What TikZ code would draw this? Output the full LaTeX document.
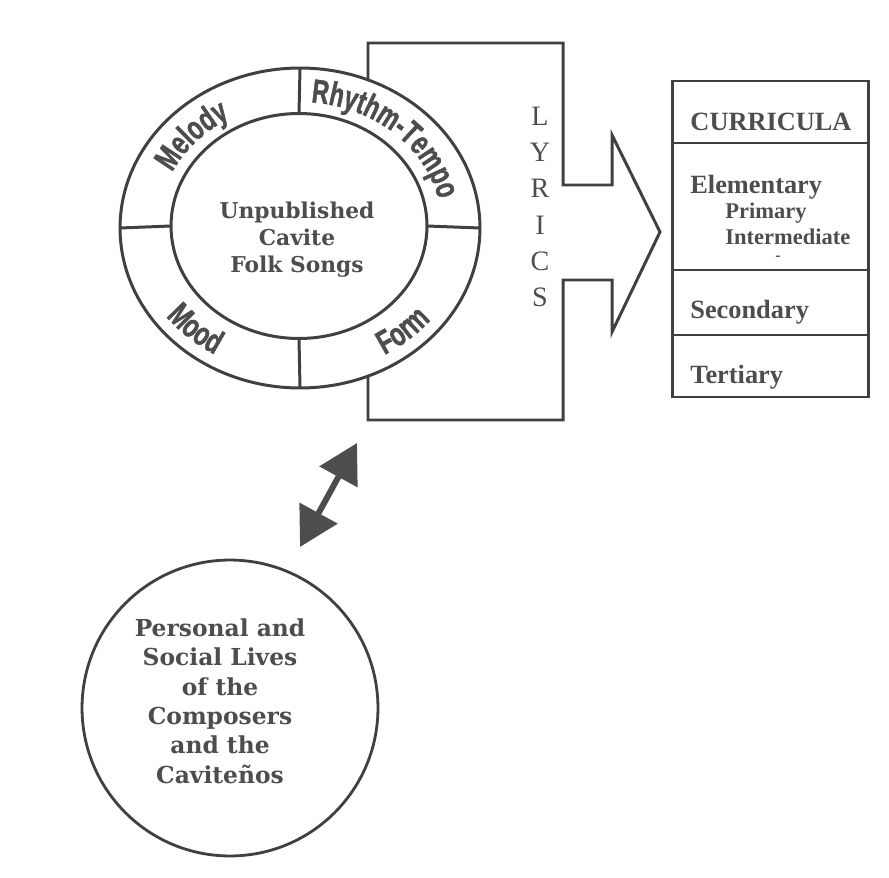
\documentclass[tikz,border=0pt]{standalone}
\usepackage{fontspec}
\setmainfont{Liberation Serif}
\newfontfamily\slabfont{DejaVu Serif}
\newfontfamily\ringfont[FakeStretch=0.7, FakeBold=1.2]{Liberation Sans}
\usetikzlibrary{shapes.geometric, arrows.meta, positioning, decorations.text}
\definecolor{inkline}{HTML}{404040}
\definecolor{inktext}{HTML}{4d4d4d}
\newcommand{\ringlabelfont}{\color{inktext}\ringfont\bfseries\fontsize{19}{21}\selectfont}
\tikzset{
    ring_ellipse/.style={
        ellipse, draw=inkline, line width=1.7pt, fill=white,
        inner sep=0pt, outer sep=0pt
    },
    lives_circle/.style={
        circle, draw=inkline, line width=1.6pt, fill=white,
        minimum size=5.92cm, inner sep=0pt, outer sep=0pt
    },
    ring_line/.style={
        draw=inkline, line width=1.7pt
    },
    slab_text/.style={
        text=inktext, align=center, inner sep=0pt,
        font=\slabfont\bfseries\fontsize{12.4}{15.3}\selectfont
    },
    lyrics_text/.style={
        text=inktext, align=center, inner sep=0pt,
        font=\fontsize{16}{20.7}\selectfont
    },
    cell_text/.style={
        text=inktext, anchor=west, inner sep=0pt,
        font=\bfseries\fontsize{15}{18}\selectfont
    },
    sub_text/.style={
        cell_text, font=\bfseries\fontsize{12.8}{15}\selectfont
    },
    ring_label/.style={
        decorate, decoration={text along path, text align=center, text={|\ringlabelfont|#1}}
    },
    link_arrow/.style={
        {Triangle[length=22pt, width=24pt]}-{Triangle[length=22pt, width=24pt]},
        draw=inktext, line width=3.4pt
    }
}

\begin{document}
\begin{tikzpicture}[x=0.02cm, y=0.02cm]
    \useasboundingbox (0,0) rectangle (889,-878);

    % lyrics arrow, ring sits on top of it
    \draw[ring_line, line join=miter] (368,-43) -- (563,-43) -- (563,-185) -- (612,-185) -- (612,-135)
        -- (660,-232) -- (612,-332) -- (612,-280) -- (563,-280) -- (563,-420) -- (368,-420) -- cycle;

    \node[ring_ellipse, minimum width=7.2cm, minimum height=6.4cm] (ring) at (300,-228) {};
    \node[ring_ellipse, minimum width=5.12cm, minimum height=4.5cm] (songs) at (299,-226) {};
    \draw[ring_line] (ring.north) -- (songs.north);
    \draw[ring_line] (ring.south) -- (songs.south);
    \draw[ring_line] (ring.west) -- (songs.west);
    \draw[ring_line] (ring.east) -- (songs.east);
    \node[slab_text] (songs_text) at (297,-240) {Unpublished\\Cavite\\Folk Songs};

    % ring labels
    \path[ring_label=Melody] (300,-227) ++(178:142 and 125) arc[start angle=178, end angle=98, x radius=142, y radius=125];
    \path[ring_label=Rhythm-Tempo] (300,-227) ++(102:142 and 125) arc[start angle=102, end angle=-6, x radius=142, y radius=125];
    \path[ring_label=Mood] (300,-227) ++(187:168 and 148) arc[start angle=187, end angle=267, x radius=168, y radius=148];
    \path[ring_label=Form] (300,-227) ++(272:168 and 148) arc[start angle=272, end angle=352, x radius=168, y radius=148];

    \node[lyrics_text] (lyrics) at (540,-207) {L\\Y\\R\\I\\C\\S};

    % curricula table
    \draw[ring_line] (672,-81) rectangle (868,-397);
    \draw[ring_line] (672,-143) -- (868,-143);
    \draw[ring_line] (672,-270) -- (868,-270);
    \draw[ring_line] (672,-335) -- (868,-335);
    \node[cell_text, anchor=center] (curricula) at (771,-122) {CURRICULA};
    \node[cell_text] (elementary) at (690,-187) {Elementary};
    \node[sub_text] (primary) at (725,-213) {Primary};
    \node[sub_text] (intermediate) at (725,-237) {Intermediate};
    \node[sub_text, anchor=center, font=\bfseries\small] (dash) at (778,-258) {-};
    \node[cell_text] (secondary) at (690,-312) {Secondary};
    \node[cell_text] (tertiary) at (690,-377) {Tertiary};

    % link to the composers
    \coordinate (link_top) at (357,-443);
    \coordinate (link_bottom) at (300,-547);
    \draw[link_arrow] (link_bottom) -- (link_top);

    \node[lives_circle] (lives) at (230,-708) {};
    \node[slab_text, font=\slabfont\bfseries\fontsize{13.3}{16.7}\selectfont] (lives_text) at (220,-701)
        {Personal and\\Social Lives\\of the\\Composers\\and the\\Caviteños};
\end{tikzpicture}
\end{document}
